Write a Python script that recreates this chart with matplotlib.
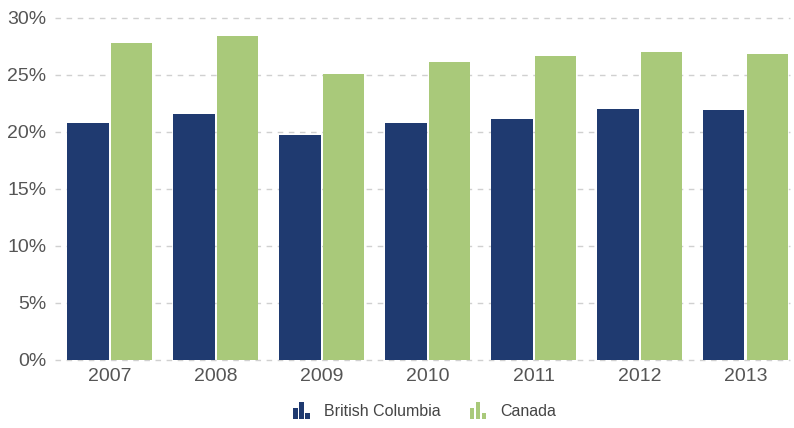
import matplotlib
matplotlib.use('Agg')
import matplotlib.pyplot as plt
import numpy as np
from matplotlib.patches import Rectangle
from matplotlib.legend_handler import HandlerBase

years = ['2007', '2008', '2009', '2010', '2011', '2012', '2013']
bc = [20.8, 21.6, 19.7, 20.8, 21.1, 22.0, 21.9]
canada = [27.8, 28.4, 25.1, 26.1, 26.7, 27.0, 26.8]

C_BC = '#1F3A70'
C_CA = '#A9C97A'
C_TXT = '#555555'

plt.rcParams['font.family'] = ['Liberation Sans', 'DejaVu Sans']


class BarIconHandler(HandlerBase):
    # three little bars, like the legend icon in the original
    def create_artists(self, legend, orig_handle, xdescent, ydescent,
                       width, height, fontsize, trans):
        color = orig_handle.get_facecolor()
        w = width * 0.27
        arts = []
        for i, hf in enumerate([0.75, 1.15, 0.4]):
            r = Rectangle((xdescent + i * width * 0.37, -ydescent - height * 0.1),
                          w, height * hf,
                          facecolor=color, edgecolor='none', transform=trans)
            arts.append(r)
        return arts


fig = plt.figure(figsize=(7.94, 4.28), dpi=100)
fig.patch.set_facecolor('white')
ax = fig.add_axes([0.069, 0.159, 0.926, 0.799])

x = np.arange(len(years))
bw = 0.39
ax.bar(x - bw / 2 - 0.01, bc, bw, color=C_BC, zorder=3)
ax.bar(x + bw / 2 + 0.01, canada, bw, color=C_CA, zorder=3)

ax.set_xlim(-0.52, 6.42)
ax.set_ylim(0, 30)
ax.set_yticks(range(0, 31, 5))
ax.set_yticklabels([f'{v}%' for v in range(0, 31, 5)])
ax.set_xticks(x)
ax.set_xticklabels(years)
ax.tick_params(axis='both', length=0, labelsize=14, labelcolor=C_TXT)
ax.tick_params(axis='y', pad=6)
ax.tick_params(axis='x', pad=6)
ax.yaxis.grid(True, color='#D0D0D0', linestyle=(0, (4, 4)), linewidth=1, zorder=0)
ax.set_axisbelow(True)
for s in ax.spines.values():
    s.set_visible(False)
for gl in ax.get_ygridlines():
    gl.set_clip_on(False)

h1 = Rectangle((0, 0), 1, 1, facecolor=C_BC)
h2 = Rectangle((0, 0), 1, 1, facecolor=C_CA)
fig.legend([h1, h2], ['British Columbia', 'Canada'],
           handler_map={Rectangle: BarIconHandler()},
           loc='center', bbox_to_anchor=(0.535, 0.04), ncol=2, frameon=False,
           fontsize=11.5, labelcolor='#444444', handlelength=1.0, handleheight=1.0,
           handletextpad=0.9, columnspacing=1.85)

fig.savefig('out.png', dpi=100, facecolor='white')
